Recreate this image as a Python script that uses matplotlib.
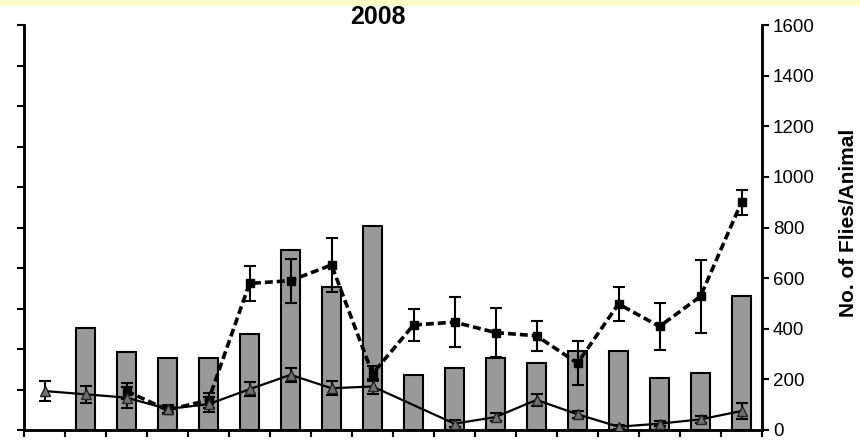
import numpy as np
import matplotlib
matplotlib.use("Agg")
import matplotlib.pyplot as plt
from matplotlib.patches import Rectangle

plt.rcParams['font.family'] = ['Liberation Sans', 'DejaVu Sans']

periods = list(range(1, 19))
# bars (left axis, unlabeled 0-100 scale)
bar_values = [np.nan, 25.3, 19.3, 17.7, 17.7, 23.6, 44.5, 35.2, 50.3, 13.6,
              15.2, 17.7, 16.6, 19.6, 19.6, 12.9, 14.0, 33.0]
# dashed series with squares (right axis)
sq_values = [np.nan, np.nan, 154, 79, 118, 579, 590, 652, 222, 415,
             426, 385, 372, 264, 498, 409, 528, 900]
sq_err = [np.nan, np.nan, 30, 15, 30, 70, 87, 106, 30, 63,
          100, 98, 58, 88, 66, 94, 143, 50]
# solid series with triangles (right axis)
tri_values = [154, 141, 128, 83, 102, 161, 218, 165, 172, np.nan,
              25, 51, 119, 62, 13, 25, 42, 75]
tri_err = [41, 33, 40, 15, 30, 28, 28, 28, 30, np.nan,
           15, 16, 24, 15, 8, 10, 15, 33]
right_ticks = [0, 200, 400, 600, 800, 1000, 1200, 1400, 1600]

fig = plt.figure(figsize=(8.6, 4.41), dpi=100)
fig.patches.append(Rectangle((0, 1 - 6 / 441), 1, 6 / 441, transform=fig.transFigure,
                             facecolor='#FFFBC8', edgecolor='none', zorder=0))
ax = fig.add_axes([24 / 860, 11 / 441, 738 / 860, 405 / 441])
ax2 = ax.twinx()

x = np.arange(len(periods))
bv = np.array(bar_values, dtype=float)
m = ~np.isnan(bv)
ax.bar(x[m], bv[m], width=0.46, color='#999999', edgecolor='black', linewidth=1.5, zorder=2)
ax.set_xlim(-0.5, len(periods) - 0.5)
ax.set_ylim(0, 100)
ax.set_yticks(np.arange(0, 101, 10))
ax.set_yticklabels([])
ax.set_xticks(np.arange(-0.5, len(periods), 1.0))
ax.set_xticklabels([])

sv = np.array(sq_values, dtype=float)
se = np.array(sq_err, dtype=float)
ms = ~np.isnan(sv)
ax2.errorbar(x[ms], sv[ms], yerr=se[ms], fmt='none', ecolor='black', elinewidth=1.5,
             capsize=4.5, capthick=1.5, zorder=3)
ax2.plot(x[ms], sv[ms], color='black', linestyle=(0, (2.2, 1.1)), linewidth=2.6,
         marker='s', markersize=6, markerfacecolor='black', markeredgecolor='black', zorder=4)

tv = np.array(tri_values, dtype=float)
te = np.array(tri_err, dtype=float)
mt = ~np.isnan(tv)
ax2.errorbar(x[mt], tv[mt], yerr=te[mt], fmt='none', ecolor='black', elinewidth=1.5,
             capsize=4.5, capthick=1.5, zorder=3)
ax2.plot(x[mt], tv[mt], color='black', linestyle='-', linewidth=1.6,
         marker='^', markersize=7, markerfacecolor='#707070', markeredgecolor='#222222',
         markeredgewidth=1.0, zorder=4)

ax2.set_ylim(0, 1600)
ax2.set_yticks(right_ticks)
ax2.tick_params(axis='y', labelsize=13.5, length=5, width=1.5, direction='out', pad=3)

for a in (ax, ax2):
    a.spines['top'].set_visible(False)
    for s in ('left', 'right', 'bottom'):
        a.spines[s].set_linewidth(1.8)
ax.tick_params(axis='both', length=5, width=1.5, direction='out')

fig.text(378 / 860, 1 - 17 / 441, '2008', ha='center', va='center', fontsize=18,
         fontweight='bold')
fig.text(858 / 860, 1 - 223 / 441, 'No. of Flies/Animal', rotation=90, ha='right', va='center',
         fontsize=15, fontweight='bold')

fig.savefig('out.png', dpi=100)
